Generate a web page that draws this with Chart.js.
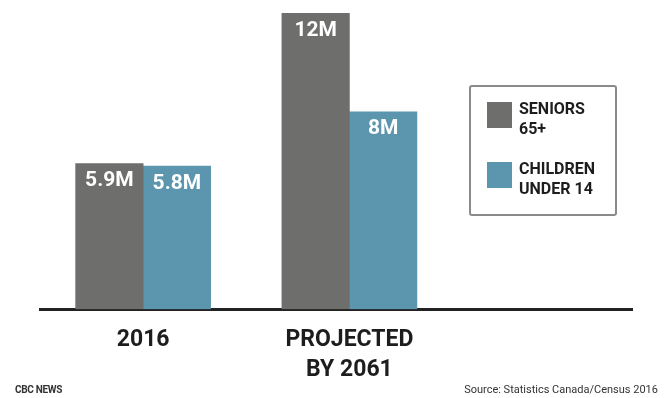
<!DOCTYPE html>
<html>
<head>
<meta charset="utf-8">
<script src="https://cdn.jsdelivr.net/npm/chart.js@4.4.0/dist/chart.umd.min.js"></script>
<style>
  html, body { margin: 0; padding: 0; background: #fff; }
  #wrap { position: relative; width: 665px; height: 398px; font-family: Roboto, sans-serif; }
  #legend { position: absolute; left: 469px; top: 85px; width: 144px; height: 127px;
            border: 2px solid #8a8a8a; border-radius: 3px; }
  .sw { position: absolute; left: 16px; width: 25px; height: 26px; }
  .lt { position: absolute; left: 48px; font-weight: 700; font-size: 16px; line-height: 20px; color: #1d1d1d; }
  #cbc { position: absolute; left: 15px; top: 384px; font-size: 10px; font-weight: 700; color: #333; letter-spacing: -0.3px; }
  #src { position: absolute; right: 7px; top: 383px; font-size: 11px; color: #333; }
</style>
</head>
<body>
<div id="wrap">
  <canvas id="bar" width="665" height="398"></canvas>
  <div id="legend"></div>
  <div id="cbc">CBC NEWS</div>
  <div id="src">Source: Statistics Canada/Census 2016</div>
</div>
<script>
// values (millions)
const categories = ['2016', ['PROJECTED', 'BY 2061']]
const seniors = [5.9, 12]
const children = [5.8, 8]
const seniorLabels = ['5.9M', '12M']
const childLabels = ['5.8M', '8M']
const seriesNames = [['SENIORS', '65+'], ['CHILDREN', 'UNDER 14']]
const colors = ['#6e6e6c', '#5b95ae']

//draws the value text inside the top of every bar
const barText = {
    id: 'barText',
    afterDatasetsDraw(chart) {
        let ctx = chart.ctx
        ctx.save()
        ctx.fillStyle = '#fff'
        ctx.font = 'bold 21px Roboto'
        ctx.textAlign = 'center'
        ctx.textBaseline = 'top'
        chart.data.datasets.forEach((ds, d) => {
            chart.getDatasetMeta(d).data.forEach((bar, i) => {
                ctx.fillText(ds.valueLabels[i], bar.x, bar.y + 7)
            })
        })
        ctx.restore()
    }
}

new Chart(document.getElementById('bar'), {
    type: 'bar',
    data: {
        datasets: [{
            label: 'SENIORS 65+',
            data: seniors.map((v, i) => ({x: i, y: v})),
            valueLabels: seniorLabels,
            backgroundColor: colors[0]
        }, {
            label: 'CHILDREN UNDER 14',
            data: children.map((v, i) => ({x: i, y: v})),
            valueLabels: childLabels,
            backgroundColor: colors[1]
        }]
    },
    options: {
        responsive: false,
        animation: false,
        events: [],
        barThickness: 67.5,
        layout: { padding: { left: 40, right: 33, top: 13, bottom: 5 } },
        plugins: {
            legend: { display: false },
            tooltip: { enabled: false }
        },
        scales: {
            x: {
                type: 'linear',
                offset: false,
                min: -0.5,
                max: 2.37,
                z: 1,
                grid: { display: false },
                border: { display: true, color: '#222', width: 3 },
                afterBuildTicks: scale => {
                    scale.ticks = categories.map((c, i) => ({value: i}))
                },
                ticks: {
                    padding: 8,
                    maxRotation: 0,
                    autoSkip: false,
                    color: '#1d1d1d',
                    font: { family: 'Roboto', weight: 'bold', size: 23, lineHeight: 1.3 },
                    callback: v => categories[v]
                }
            },
            y: {
                display: false,
                min: 0,
                max: 12
            }
        }
    },
    plugins: [barText]
})

//html legend with a frame around it
let legend = document.getElementById('legend')
let tops = [15, 75]
seriesNames.forEach((name, i) => {
    let sw = document.createElement('div')
    sw.className = 'sw'
    sw.style.top = tops[i] + 'px'
    sw.style.background = colors[i]
    legend.appendChild(sw)
    let t = document.createElement('div')
    t.className = 'lt'
    t.style.top = (tops[i] - 3) + 'px'
    t.innerHTML = name.join('<br>')
    legend.appendChild(t)
})
</script>
</body>
</html>
